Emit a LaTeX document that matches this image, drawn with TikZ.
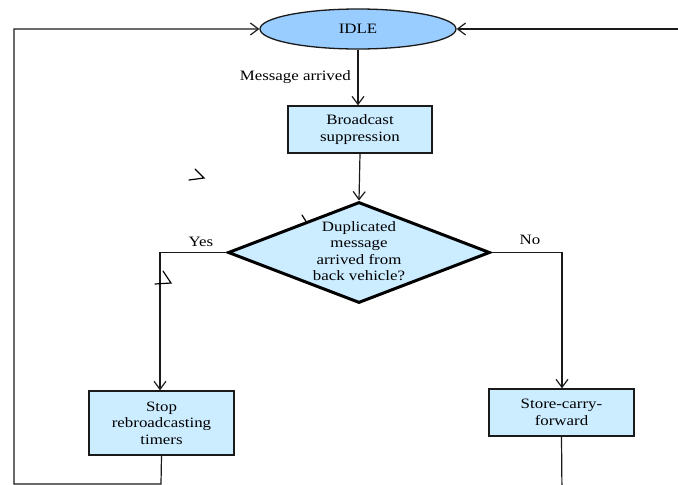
\documentclass[tikz,border=0pt]{standalone}
\usepackage{fontspec}
\setmainfont{Liberation Serif}[FakeStretch=1.18]
\usetikzlibrary{shapes.geometric,arrows.meta}
\definecolor{idlefill}{HTML}{99CCFF}
\definecolor{boxfill}{HTML}{CCECFF}
\definecolor{linec}{HTML}{1A1A1A}
\begin{document}
\begin{tikzpicture}[x=1pt,y=-1pt,
  every node/.style={font=\fontsize{14.3}{16.5}\selectfont, text=black},
  flow/.style={draw=linec, line width=1.2pt, -{Straight Barb[length=8pt,width=12pt,line width=1.2pt]}},
  plain/.style={draw=linec, line width=1.2pt},
  procbox/.style={draw=linec, line width=1.4pt, fill=boxfill, rectangle, inner sep=0pt, align=center, minimum width=145pt},
  stray/.style={draw=black, line width=1.2pt, line cap=round, line join=miter}]
\useasboundingbox (0,0) rectangle (678,485);
\clip (0,0) rectangle (678,485);
\node[ellipse, draw=linec, line width=1.3pt, fill=idlefill, minimum width=196pt, minimum height=40pt, inner sep=0pt] (idle) at (358,29) {IDLE};
\node[procbox, minimum width=144pt, minimum height=47pt] (bc) at (360,129.5) {Broadcast\\suppression};
\node[diamond, draw=black, line width=3pt, fill=boxfill, minimum width=262pt, minimum height=101pt, inner sep=0pt] (dia) at (359,252.5) {};
\node[align=center] (dtext) at (359,251) {Duplicated\\message\\arrived from\\back vehicle?};
\node[procbox, minimum height=64pt] (stop) at (161.5,423) {Stop\\rebroadcasting\\timers};
\node[procbox, minimum height=47pt] (store) at (561.5,412.5) {Store-carry-\\forward};
\node[anchor=east, inner sep=0pt] (msg) at (351,77) {Message arrived};
\node[inner sep=0pt] (yes) at (201,242) {Yes};
\node[inner sep=0pt] (no) at (530,240) {No};
\coordinate (lb) at (14,484);
\coordinate (lt) at (14,29);
\coordinate (rt) at (690,29);
\coordinate (yc) at (160,252.5);
\coordinate (nc) at (562,252.5);
\coordinate (sb) at (161,484);
\coordinate (stb) at (562,495);
% connectors
\draw[flow] (idle.south) -- (idle.south |- bc.north);
\draw[flow] (bc.south) -- (dia.north);
\draw[flow] (dia.west) -- (yc) -- (yc |- stop.north);
\draw[flow] (dia.east) -- (nc) -- (nc |- store.north);
\draw[flow] (stop.south) -- (sb) -- (lb) -- (lt) -- (idle.west);
\draw[plain] (store.south) -- (stb);
\draw[flow] (rt) -- (idle.east);
% stray marks
\draw[stray] (195,169) -- (204,178) -- (189,180);
\draw[stray] (302,215) -- (307,223) -- (298,225);
\draw[stray] (163,271) -- (171,283) -- (155,284);
\end{tikzpicture}
\end{document}
